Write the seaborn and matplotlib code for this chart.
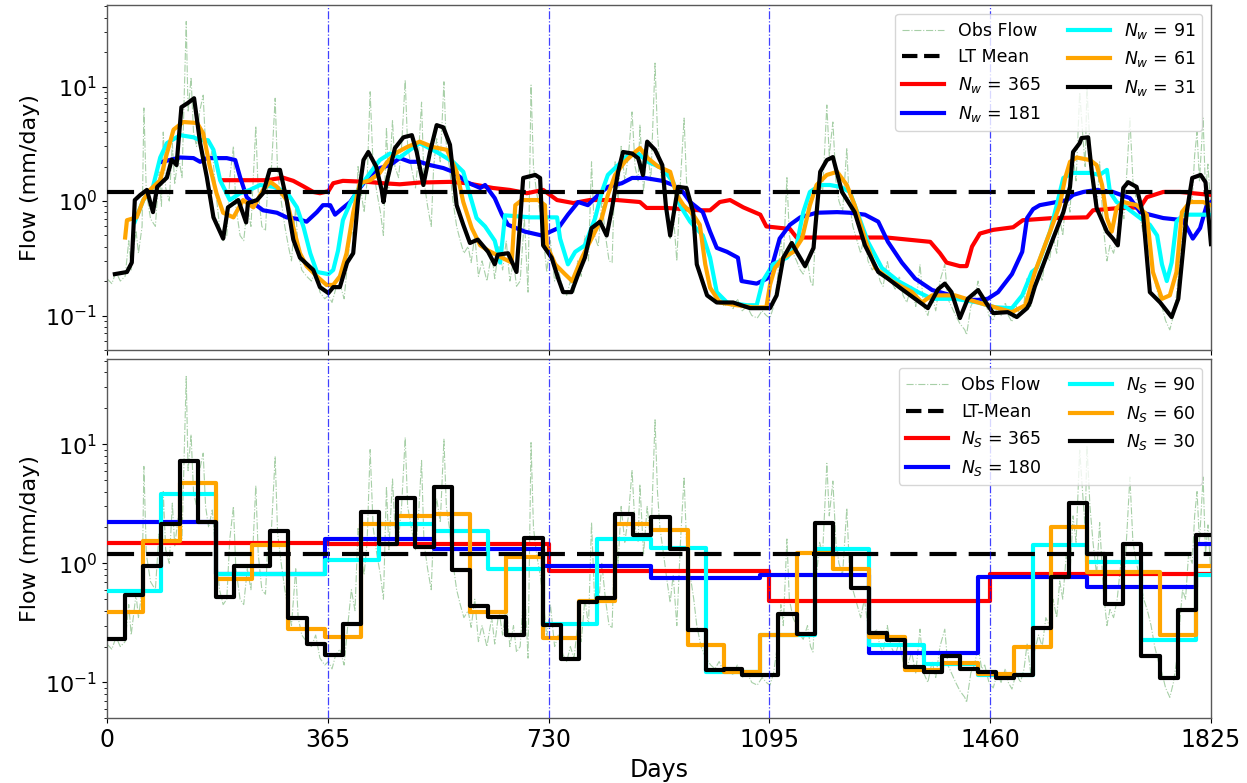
import numpy as np
import matplotlib
matplotlib.use("Agg")
import matplotlib.pyplot as plt
from matplotlib.lines import Line2D
import seaborn as sns

plt.rcParams["font.family"] = ["DejaVu Sans"]
plt.rcParams["mathtext.fontset"] = "dejavusans"

# ---------------- data ----------------
n_days = 1825
lt_mean = 1.2
year_marks = [365, 730, 1095, 1460]
xtick_vals = [0, 365, 730, 1095, 1460, 1825]

# observed daily flow (mm/day), peaks and troughs
obs_day = [0, 8, 15, 22, 30, 36, 40, 48, 52, 58, 61, 65, 72, 80, 86, 90, 93, 97, 103, 108,
           112, 118, 124, 131, 134, 139, 143, 148, 153, 159, 163, 168, 174, 180, 186, 192, 198,
           203, 209, 213, 220, 226, 232, 238, 246, 250, 256, 262, 266, 272, 278, 282, 288, 294,
           300, 305, 312, 316, 322, 330, 338, 345, 352, 360, 366, 372, 378, 385, 392, 398, 404,
           410, 415, 420, 425, 430, 435, 440, 446, 452, 457, 462, 466, 472, 476, 482, 487, 493,
           497, 503, 510, 515, 520, 524, 530, 536, 540, 545, 551, 557, 561, 566, 572, 578, 584,
           590, 597, 602, 608, 614, 620, 628, 636, 641, 648, 654, 660, 666, 672, 677, 683, 690,
           696, 701, 705, 710, 716, 721, 727, 733, 740, 746, 754, 760, 766, 772, 778, 784, 790,
           796, 801, 806, 812, 818, 824, 830, 835, 840, 845, 850, 856, 862, 868, 873, 878, 881,
           887, 893, 899, 906, 910, 914, 920, 926, 931, 936, 942, 948, 954, 958, 964, 970, 975,
           982, 990, 998, 1005, 1012, 1020, 1028, 1035, 1042, 1050, 1058, 1066, 1075, 1083, 1090,
           1096, 1102, 1108, 1114, 1118, 1124, 1128, 1134, 1140, 1146, 1151, 1158, 1163, 1167,
           1173, 1178, 1183, 1190, 1194, 1200, 1205, 1210, 1216, 1223, 1227, 1233, 1240, 1246,
           1252, 1258, 1265, 1272, 1278, 1283, 1290, 1296, 1303, 1310, 1316, 1322, 1330, 1337,
           1344, 1350, 1357, 1364, 1370, 1377, 1385, 1390, 1396, 1403, 1410, 1418, 1421, 1428,
           1434, 1440, 1446, 1451, 1458, 1465, 1472, 1478, 1485, 1490, 1496, 1503, 1510, 1516,
           1521, 1527, 1533, 1540, 1546, 1552, 1558, 1564, 1570, 1575, 1580, 1586, 1592, 1597,
           1602, 1608, 1613, 1617, 1620, 1625, 1630, 1636, 1641, 1647, 1653, 1658, 1664, 1670,
           1676, 1681, 1686, 1691, 1696, 1702, 1708, 1714, 1720, 1726, 1732, 1738, 1744, 1750,
           1757, 1763, 1768, 1773, 1778, 1783, 1788, 1794, 1798, 1802, 1806, 1812, 1816, 1820, 1825]
obs_flow = [0.21, 0.19, 0.24, 0.2, 0.22, 0.45, 0.25, 0.55, 0.35, 0.6, 6.5, 1.2, 0.7, 0.6, 1.8, 0.9,
            4.0, 1.3, 1.0, 3.2, 1.4, 2.5, 1.6, 37.0, 6.0, 12.0, 4.0, 3.0, 6.0, 8.4, 3.0, 2.0, 2.8,
            1.2, 0.6, 0.45, 0.5, 1.6, 3.0, 0.9, 0.5, 0.45, 0.9, 0.6, 4.5, 1.2, 0.6, 0.55, 1.5, 2.0,
            7.9, 1.8, 1.0, 0.6, 0.4, 0.3, 0.9, 0.35, 0.25, 0.22, 0.2, 0.25, 0.16, 0.14, 0.15, 0.13,
            0.17, 0.19, 0.14, 0.3, 0.6, 0.4, 2.0, 1.2, 0.8, 1.5, 9.0, 2.0, 1.2, 0.8, 0.5, 4.4, 1.3,
            5.1, 2.0, 1.6, 3.0, 11.4, 3.0, 2.0, 1.3, 2.5, 7.3, 1.5, 0.9, 0.6, 2.0, 3.5, 2.2, 11.0,
            3.0, 2.0, 1.0, 0.6, 0.45, 0.35, 0.4, 0.29, 0.5, 0.22, 0.3, 0.2, 0.35, 0.21, 0.4, 0.25,
            0.45, 0.2, 0.3, 0.18, 0.2, 0.7, 0.16, 10.3, 2.0, 1.2, 0.8, 0.5, 0.24, 0.45, 0.2, 0.25,
            0.17, 0.15, 0.2, 0.16, 0.3, 0.22, 0.5, 0.3, 2.2, 0.5, 0.4, 1.0, 0.5, 0.3, 0.29, 2.2,
            1.0, 3.0, 1.5, 2.5, 6.0, 2.0, 1.5, 4.6, 1.2, 3.0, 1.5, 16.0, 4.0, 2.0, 1.2, 0.7, 0.47,
            0.8, 0.3, 1.5, 5.3, 1.5, 0.8, 0.5, 0.3, 0.2, 0.16, 0.14, 0.13, 0.15, 0.12, 0.13, 0.115,
            0.14, 0.11, 0.12, 0.1, 0.095, 0.11, 0.1, 0.095, 0.12, 0.2, 0.45, 0.3, 1.6, 0.5, 0.35,
            0.3, 0.25, 0.23, 0.3, 0.2, 0.18, 0.8, 1.5, 1.2, 6.9, 2.5, 4.9, 1.5, 1.0, 0.8, 2.9, 1.0,
            0.6, 0.45, 0.35, 0.5, 0.3, 0.25, 0.28, 0.2, 0.18, 0.3, 0.2, 0.17, 0.22, 0.15, 0.13,
            0.18, 0.12, 0.28, 0.12, 0.1, 0.15, 0.11, 0.2, 0.28, 0.14, 0.12, 0.1, 0.085, 0.075,
            0.068, 0.12, 0.14, 0.2, 0.13, 0.14, 0.1, 0.09, 0.12, 0.1, 0.13, 0.1, 0.088, 0.12, 0.1,
            0.13, 0.21, 0.12, 0.18, 0.25, 0.2, 0.35, 0.3, 0.5, 0.35, 0.71, 0.5, 1.2, 0.8, 2.5, 1.5,
            8.9, 3.8, 2.0, 9.7, 3.0, 1.5, 0.8, 2.2, 0.6, 0.3, 0.41, 0.35, 0.5, 1.0, 0.7, 1.8, 5.3,
            1.5, 1.0, 0.7, 0.5, 0.4, 0.3, 0.2, 0.15, 0.12, 0.09, 0.075, 0.1, 0.15, 0.3, 0.6, 0.5,
            1.2, 1.0, 2.5, 4.0, 1.5, 5.3, 1.2, 2.1, 0.8]

# centred moving averages, window N_w
mw365_day = [192, 209, 264, 291, 308, 324, 341, 352, 366, 374, 390, 430, 457, 484, 517, 567, 595,
             638, 666, 694, 721, 744, 771, 798, 843, 881, 892, 925, 980, 997, 1013, 1030, 1052,
             1080, 1090, 1129, 1140, 1179, 1289, 1361, 1377, 1388, 1410, 1421, 1430, 1443, 1465,
             1498, 1514, 1564, 1620, 1630, 1675, 1708, 1719, 1746, 1774, 1795, 1825]
mw365_val = [1.52, 1.52, 1.52, 1.6, 1.5, 1.35, 1.2, 1.17, 1.22, 1.43, 1.5, 1.47, 1.43, 1.4, 1.45,
             1.47, 1.43, 1.3, 1.25, 1.17, 1.25, 1.02, 0.96, 1.02, 1.02, 0.98, 0.87, 0.87, 0.83,
             0.83, 0.98, 1.02, 0.88, 0.76, 0.6, 0.57, 0.48, 0.48, 0.48, 0.44, 0.35, 0.29, 0.27,
             0.27, 0.4, 0.52, 0.56, 0.59, 0.68, 0.71, 0.72, 0.83, 0.87, 0.88, 1.08, 1.2, 1.2,
             1.17, 1.13]

mw181_day = [91, 121, 143, 154, 165, 198, 212, 220, 231, 242, 258, 281, 297, 314, 330, 347, 357,
             369, 377, 390, 402, 418, 435, 451, 468, 484, 501, 517, 534, 556, 572, 595, 617, 625,
             641, 653, 663, 691, 719, 746, 762, 779, 795, 812, 828, 851, 868, 889, 918, 936, 952,
             964, 985, 997, 1008, 1025, 1043, 1049, 1074, 1091, 1101, 1112, 1129, 1146, 1173,
             1207, 1228, 1253, 1275, 1291, 1314, 1336, 1364, 1396, 1418, 1440, 1456, 1473, 1496,
             1513, 1521, 1531, 1542, 1570, 1587, 1597, 1614, 1636, 1663, 1691, 1708, 1724, 1746,
             1779, 1795, 1807, 1818, 1825]
mw181_val = [2.2, 2.4, 2.37, 2.2, 2.37, 2.37, 2.28, 1.62, 1.08, 0.96, 0.83, 0.79, 0.72, 0.7,
             0.66, 0.8, 0.92, 0.92, 0.76, 0.87, 0.98, 1.3, 1.69, 1.94, 2.06, 2.37, 2.2, 2.2, 2.06,
             1.94, 1.8, 1.46, 1.3, 1.38, 1.06, 0.76, 0.62, 0.54, 0.5, 0.58, 0.76, 0.98, 0.92,
             1.13, 1.33, 1.43, 1.59, 1.59, 1.5, 1.38, 1.2, 0.98, 0.8, 0.54, 0.39, 0.36, 0.32, 0.2,
             0.19, 0.21, 0.29, 0.47, 0.62, 0.72, 0.79, 0.8, 0.79, 0.76, 0.66, 0.44, 0.29, 0.21,
             0.167, 0.15, 0.137, 0.137, 0.14, 0.16, 0.23, 0.36, 0.71, 0.85, 0.92, 0.98, 1.02,
             1.13, 1.2, 1.25, 1.2, 1.06, 0.8, 0.76, 0.71, 0.68, 0.47, 0.58, 0.92, 0.98]

mw91_day = [46, 60, 76, 88, 99, 121, 143, 154, 167, 176, 187, 203, 220, 236, 253, 275, 297, 314,
            325, 336, 347, 366, 374, 382, 390, 402, 418, 435, 451, 468, 484, 501, 517, 545, 572,
            589, 600, 611, 625, 641, 650, 658, 700, 744, 749, 762, 774, 790, 807, 818, 828, 845,
            861, 878, 894, 918, 936, 947, 964, 985, 997, 1008, 1025, 1058, 1074, 1084, 1101,
            1124, 1140, 1151, 1162, 1179, 1195, 1212, 1228, 1236, 1258, 1281, 1308, 1341, 1364,
            1402, 1440, 1468, 1496, 1513, 1529, 1537, 1559, 1570, 1581, 1597, 1625, 1641, 1653,
            1658, 1669, 1686, 1708, 1724, 1736, 1744, 1752, 1760, 1768, 1779, 1825]
mw91_val = [0.66, 1.02, 1.33, 2.4, 3.2, 3.76, 3.6, 3.4, 3.4, 2.8, 1.52, 1.02, 1.17, 1.25, 1.38,
            1.33, 1.2, 0.88, 0.59, 0.35, 0.24, 0.23, 0.25, 0.37, 0.68, 0.96, 1.33, 1.76, 2.28,
            2.6, 2.4, 2.8, 3.2, 2.68, 2.2, 1.8, 1.13, 0.71, 0.6, 0.45, 0.29, 0.75, 0.72, 0.72,
            0.47, 0.28, 0.36, 0.41, 0.71, 1.2, 1.69, 2.06, 2.5, 2.6, 2.2, 1.94, 1.46, 0.92, 0.66,
            0.5, 0.32, 0.16, 0.13, 0.123, 0.123, 0.2, 0.28, 0.32, 0.41, 0.8, 1.2, 1.38, 1.38,
            1.33, 1.2, 0.92, 0.44, 0.26, 0.2, 0.16, 0.14, 0.14, 0.13, 0.118, 0.116, 0.15, 0.24,
            0.26, 0.54, 0.92, 1.59, 1.76, 1.76, 1.69, 1.87, 1.2, 0.98, 0.87, 0.71, 0.62, 0.5,
            0.28, 0.2, 0.29, 0.66, 0.76, 0.76]

mw61_day = [30, 33, 49, 60, 71, 88, 99, 110, 126, 149, 159, 170, 181, 192, 209, 225, 242, 258,
            270, 281, 297, 308, 319, 330, 347, 363, 374, 385, 396, 407, 418, 435, 451, 462, 476,
            496, 517, 539, 562, 578, 589, 603, 617, 630, 653, 669, 675, 686, 713, 724, 727, 741,
            757, 769, 785, 801, 818, 828, 840, 856, 873, 881, 894, 911, 931, 942, 953, 969, 980,
            989, 997, 1013, 1041, 1068, 1090, 1096, 1104, 1118, 1135, 1149, 1162, 1173, 1190,
            1207, 1223, 1236, 1253, 1270, 1297, 1331, 1347, 1364, 1402, 1440, 1468, 1496, 1518,
            1534, 1559, 1575, 1584, 1592, 1603, 1625, 1636, 1645, 1653, 1661, 1669, 1680, 1702,
            1719, 1729, 1744, 1757, 1768, 1777, 1790, 1812, 1825]
mw61_val = [0.48, 0.68, 0.72, 1.02, 1.25, 1.52, 2.6, 4.2, 4.9, 4.8, 3.9, 2.0, 1.17, 0.79, 0.72,
            1.02, 0.88, 1.25, 1.47, 1.33, 1.02, 0.59, 0.35, 0.27, 0.22, 0.185, 0.185, 0.22, 0.35,
            0.79, 1.43, 1.52, 1.76, 2.15, 2.6, 2.96, 3.3, 2.96, 2.8, 1.8, 0.98, 0.58, 0.41, 0.37,
            0.32, 0.29, 0.92, 1.02, 1.02, 0.92, 0.41, 0.28, 0.23, 0.2, 0.32, 0.47, 0.71, 1.13,
            1.69, 2.2, 2.68, 2.9, 2.37, 2.0, 1.8, 1.13, 0.92, 0.76, 0.62, 0.28, 0.175, 0.13,
            0.123, 0.118, 0.118, 0.185, 0.26, 0.32, 0.36, 0.47, 0.92, 1.38, 1.69, 1.8, 1.38,
            0.92, 0.47, 0.26, 0.2, 0.16, 0.13, 0.15, 0.15, 0.13, 0.118, 0.107, 0.123, 0.24, 0.54,
            0.92, 1.59, 2.2, 2.4, 2.28, 2.06, 1.38, 0.71, 0.54, 0.87, 0.98, 0.92, 0.76, 0.24,
            0.14, 0.15, 0.24, 0.8, 0.98, 0.98, 0.92]

mw31_day = [13, 33, 41, 46, 55, 66, 76, 83, 99, 107, 115, 123, 134, 144, 154, 165, 176, 192, 200,
            217, 230, 233, 248, 258, 269, 286, 297, 308, 319, 341, 352, 366, 374, 385, 397, 407,
            415, 424, 432, 445, 454, 457, 462, 476, 490, 504, 512, 523, 534, 545, 556, 567, 578,
            589, 600, 613, 630, 641, 646, 663, 677, 688, 708, 716, 721, 735, 746, 754, 768, 779,
            790, 801, 815, 826, 835, 845, 853, 868, 878, 886, 893, 906, 918, 924, 931, 944, 958,
            969, 975, 992, 1008, 1035, 1063, 1096, 1107, 1118, 1132, 1140, 1154, 1168, 1179,
            1190, 1200, 1215, 1236, 1253, 1275, 1291, 1314, 1336, 1357, 1374, 1385, 1396, 1410,
            1423, 1440, 1456, 1465, 1489, 1504, 1521, 1526, 1534, 1548, 1564, 1581, 1592, 1597,
            1608, 1611, 1622, 1628, 1636, 1653, 1663, 1671, 1680, 1688, 1702, 1713, 1724, 1741,
            1760, 1771, 1785, 1794, 1808, 1816, 1825]
mw31_val = [0.23, 0.24, 0.29, 1.02, 1.13, 1.25, 0.8, 1.33, 1.6, 2.3, 2.06, 6.6, 7.2, 7.9, 3.2,
            1.62, 0.72, 0.47, 0.88, 1.02, 0.65, 0.96, 1.02, 1.17, 1.87, 1.87, 1.02, 0.46, 0.32,
            0.25, 0.177, 0.157, 0.177, 0.177, 0.29, 0.35, 1.02, 2.28, 2.68, 2.0, 1.25, 0.98, 1.43,
            2.9, 3.6, 3.76, 2.68, 1.38, 2.68, 4.6, 4.4, 3.1, 0.92, 0.62, 0.43, 0.46, 0.36, 0.28,
            0.34, 0.35, 0.24, 1.59, 1.69, 1.59, 0.41, 0.32, 0.21, 0.16, 0.16, 0.23, 0.32, 0.58,
            0.66, 0.5, 0.87, 1.8, 2.68, 2.6, 2.37, 1.69, 3.3, 2.8, 2.06, 0.9, 0.5, 1.33, 1.3, 0.8,
            0.28, 0.15, 0.13, 0.13, 0.116, 0.116, 0.15, 0.32, 0.43, 0.36, 0.27, 0.39, 1.8, 2.28,
            2.42, 1.2, 0.8, 0.41, 0.24, 0.21, 0.17, 0.14, 0.116, 0.17, 0.19, 0.16, 0.095, 0.14,
            0.167, 0.123, 0.105, 0.107, 0.097, 0.116, 0.13, 0.18, 0.28, 0.47, 0.8, 1.33, 2.68,
            3.2, 3.55, 3.6, 1.8, 0.87, 0.54, 0.47, 0.41, 1.3, 1.46, 1.33, 0.75, 0.16, 0.13,
            0.097, 0.14, 0.8, 1.59, 1.69, 1.46, 0.42]

# block means, segment length N_s
seg365_val = [1.49, 1.45, 0.87, 0.48, 0.82]
seg180_val = [2.22, 0.81, 1.6, 1.31, 0.95, 0.75, 0.79, 0.176, 0.77, 0.63, 1.46]
seg90_val = [0.58, 3.83, 0.82, 0.82, 1.06, 2.15, 1.87, 0.89, 0.31, 1.61, 1.34, 0.122, 0.252,
             1.31, 0.207, 0.143, 0.115, 1.43, 1.035, 0.228, 0.8]
seg60_val = [0.39, 1.54, 4.73, 0.74, 1.43, 0.28, 0.243, 2.13, 2.5, 2.58, 0.39, 1.12, 0.237,
             0.485, 2.15, 1.9, 0.205, 0.122, 0.248, 1.23, 0.89, 0.243, 0.128, 0.145, 0.118, 0.2,
             2.0, 0.84, 0.84, 0.252, 0.95]
seg30_val = [0.232, 0.545, 0.95, 2.13, 7.2, 2.24, 0.52, 0.95, 0.94, 1.87, 0.345, 0.211, 0.171,
             0.31, 2.7, 1.46, 3.55, 1.36, 4.38, 0.877, 0.44, 0.352, 0.248, 1.64, 0.306, 0.158,
             0.47, 0.51, 2.6, 1.72, 2.46, 1.33, 0.276, 0.128, 0.13, 0.115, 0.115, 0.376, 0.256,
             2.19, 1.19, 0.62, 0.259, 0.228, 0.134, 0.122, 0.168, 0.13, 0.122, 0.108, 0.115,
             0.287, 0.77, 3.22, 1.19, 0.456, 1.45, 0.168, 0.108, 0.406, 1.72]

series_colors = ["red", "blue", "cyan", "orange", "black"]
ylims = (0.05, 51.5)

# ---------------- figure ----------------
fig = plt.figure(figsize=(12.47, 7.83), dpi=100)
ax_top = fig.add_axes([0.0858, 0.5530, 0.8853, 0.4406])
ax_bot = fig.add_axes([0.0858, 0.0826, 0.8853, 0.4585])

obs_style = dict(color="#5fa85f", lw=0.8, ls="-.", alpha=0.55)
mean_style = dict(color="black", lw=3, ls=(0, (6.5, 2.9)))


def base_panel(ax):
    ax.set_yscale("log")
    sns.lineplot(x=obs_day, y=obs_flow, ax=ax, estimator=None, sort=False, zorder=1, **obs_style)
    ax.axhline(lt_mean, zorder=4, **mean_style)
    for d in year_marks:
        ax.axvline(d, color="blue", lw=0.9, ls="-.", alpha=0.75, zorder=5)
    ax.set_xlim(0, n_days)
    ax.set_ylim(*ylims)
    ax.set_xticks(xtick_vals)
    ax.set_ylabel("Flow (mm/day)", fontsize=16)
    ax.tick_params(axis="y", labelsize=16)
    ax.tick_params(axis="x", labelsize=17)
    for s in ax.spines.values():
        s.set_color("0.35")
        s.set_linewidth(1.0)


# upper panel: moving windows
base_panel(ax_top)
mw_sets = [(mw365_day, mw365_val), (mw181_day, mw181_val), (mw91_day, mw91_val),
           (mw61_day, mw61_val), (mw31_day, mw31_val)]
for (d, v), c in zip(mw_sets, series_colors):
    sns.lineplot(x=d, y=v, ax=ax_top, color=c, lw=3, estimator=None, sort=False, zorder=3)
ax_top.set_xticklabels([])
ax_top.set_xlabel("")

top_labels = ["Obs Flow", "LT Mean", r"$N_w$ = 365", r"$N_w$ = 181",
              r"$N_w$ = 91", r"$N_w$ = 61", r"$N_w$ = 31"]

# lower panel: non-overlapping segments
base_panel(ax_bot)
seg_sets = [(365, seg365_val), (180, seg180_val), (90, seg90_val), (60, seg60_val), (30, seg30_val)]
for (n, v), c in zip(seg_sets, series_colors):
    edges = list(np.arange(0, n_days, n)) + [n_days]
    vals = list(v) + [v[-1]]
    sns.lineplot(x=edges, y=vals, ax=ax_bot, color=c, lw=3, estimator=None, sort=False,
                 drawstyle="steps-post", zorder=3)
ax_bot.set_xlabel("Days", fontsize=17)

bot_labels = ["Obs Flow", "LT-Mean", r"$N_S$ = 365", r"$N_S$ = 180",
              r"$N_S$ = 90", r"$N_S$ = 60", r"$N_S$ = 30"]


def handles():
    h = [Line2D([], [], **obs_style), Line2D([], [], color="black", lw=3, ls="--")]
    h += [Line2D([], [], color=c, lw=3) for c in series_colors]
    return h


for ax, labels in [(ax_top, top_labels), (ax_bot, bot_labels)]:
    ax.legend(handles(), labels, ncol=2, loc="upper right", fontsize=12.5,
              columnspacing=1.6, handlelength=2.4)

fig.savefig("out.png", dpi=100)
